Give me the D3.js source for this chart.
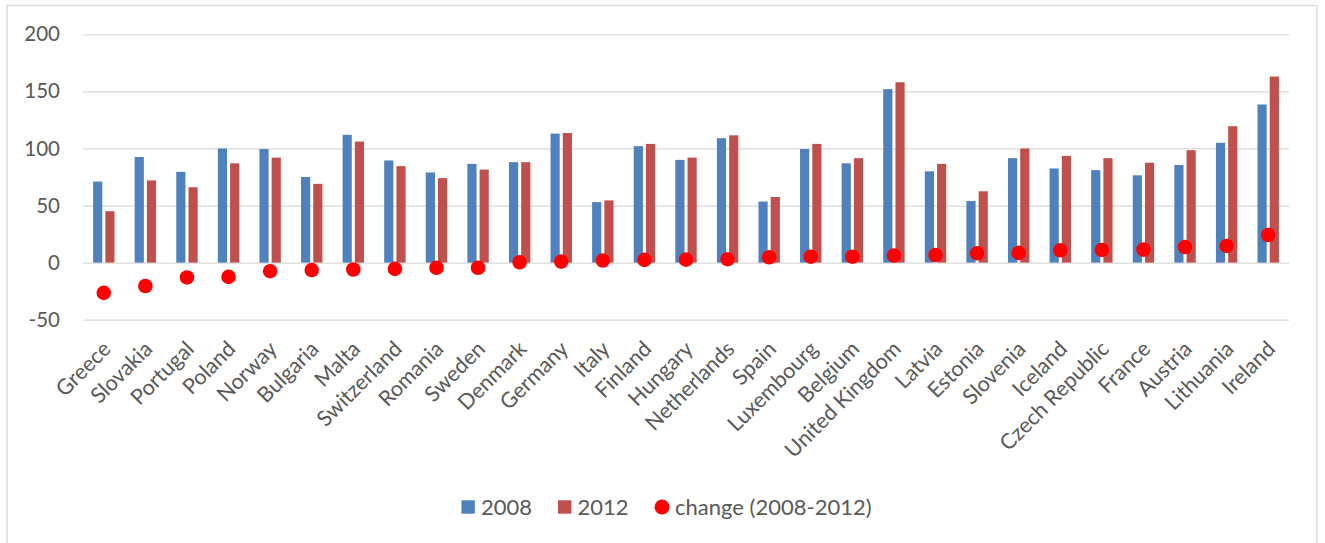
<!DOCTYPE html>
<html>
<head>
<meta charset="utf-8">
<script src="https://cdn.jsdelivr.net/npm/d3@7"></script>
<style>
  html, body { margin: 0; padding: 0; background: #fff; }
  svg text { font-family: Lato, "Open Sans", sans-serif; fill: #595959; }
</style>
</head>
<body>
<div id="chart"></div>
<script>
// ---------- Data ----------
const countries = [
  "Greece", "Slovakia", "Portugal", "Poland", "Norway", "Bulgaria", "Malta",
  "Switzerland", "Romania", "Sweden", "Denmark", "Germany", "Italy", "Finland",
  "Hungary", "Netherlands", "Spain", "Luxembourg", "Belgium", "United Kingdom",
  "Latvia", "Estonia", "Slovenia", "Iceland", "Czech Republic", "France",
  "Austria", "Lithuania", "Ireland"
];
const v2008 = [71, 92.5, 79.5, 100, 99.5, 75, 112, 89.5, 79, 86.5, 88, 113, 53, 102, 90, 109, 53.5, 99.5, 87, 152, 80, 54, 91.5, 82.5, 81, 76.5, 85.5, 105, 138.5];
const v2012 = [45, 72, 66, 87, 92, 69, 106, 84.5, 74, 81.5, 88, 113.5, 54.5, 104, 92, 111.5, 57.5, 104, 91.5, 158, 86.5, 62.5, 100, 93.5, 91.5, 87.5, 98.5, 119.5, 163];
const change = [-26.5, -20.5, -13, -12.5, -7.5, -6.5, -6, -5.5, -4.5, -4.5, 0.3, 0.9, 1.8, 2.4, 2.6, 3, 4.7, 5.2, 5.2, 6.1, 6.7, 8.2, 8.5, 10.8, 11.1, 11.4, 13.7, 14.6, 24.2];
const yTicks = [-50, 0, 50, 100, 150, 200];
const seriesNames = ["2008", "2012"];
const seriesColors = ["#4F81BD", "#C0504D"];
const dotName = "change (2008-2012)";
const dotColor = "#FF0000";

// ---------- Layout ----------
const W = 1325, H = 543;
const left = 83, right = 1289;

const svg = d3.select("#chart").append("svg").attr("width", W).attr("height", H);

// outer chart border
svg.append("rect")
  .attr("x", 7).attr("y", 5.5)
  .attr("width", 1310).attr("height", 560)
  .attr("fill", "none").attr("stroke", "#d9d9d9").attr("stroke-width", 1.3);

const x = d3.scaleBand().domain(countries).range([left, right]);
const x1 = d3.scaleBand().domain(seriesNames).range([-10.7, 10.7]).paddingInner(0.25);
const y = d3.scaleLinear().domain([-50, 200]).range([319.7, 34.3]);

// gridlines
svg.append("g")
  .attr("transform", `translate(${left},0)`)
  .call(d3.axisLeft(y).tickValues(yTicks).tickSize(-(right - left)).tickFormat(""))
  .call((g) => g.select(".domain").remove())
  .selectAll("line")
  .attr("stroke", "#d9d9d9")
  .attr("stroke-width", 1.3);

// y labels (plain hyphen for negatives, like the original)
svg.append("g")
  .attr("transform", `translate(${left},0)`)
  .call(d3.axisLeft(y).tickValues(yTicks).tickSize(0).tickPadding(23).tickFormat((d) => String(d)))
  .call((g) => g.select(".domain").remove())
  .selectAll("text")
  .attr("font-size", 20.5)
  .attr("fill", "#595959");

// bars
const rows = countries.map((c, i) => ({ c, vals: [v2008[i], v2012[i]], ch: change[i] }));

svg.append("g")
  .selectAll("g")
  .data(rows)
  .enter()
  .append("g")
  .attr("transform", (d) => `translate(${x(d.c) + x.bandwidth() / 2},0)`)
  .selectAll("rect")
  .data((d) => d.vals.map((v, k) => ({ k, v })))
  .enter()
  .append("rect")
  .attr("x", (d) => x1(seriesNames[d.k]))
  .attr("width", x1.bandwidth())
  .attr("y", (d) => y(Math.max(0, d.v)))
  .attr("height", (d) => Math.abs(y(d.v) - y(0)))
  .attr("fill", (d) => seriesColors[d.k]);

// change dots
svg.append("g")
  .selectAll("circle")
  .data(rows)
  .enter()
  .append("circle")
  .attr("cx", (d) => x(d.c) + x.bandwidth() / 2)
  .attr("cy", (d) => y(d.ch))
  .attr("r", 7.3)
  .attr("fill", dotColor);

// category labels
svg.append("g")
  .attr("transform", "translate(0,345)")
  .call(d3.axisBottom(x).tickSize(0))
  .call((g) => g.select(".domain").remove())
  .selectAll("text")
  .attr("font-size", 21.5)
  .attr("fill", "#595959")
  .attr("x", 0).attr("y", 0)
  .attr("dy", "0.35em")
  .attr("text-anchor", "end")
  .attr("transform", "translate(3,0) rotate(-45)");

// legend
const legend = svg.append("g").attr("transform", "translate(0,507)");
const items = [
  { name: seriesNames[0], color: seriesColors[0], shape: "rect" },
  { name: seriesNames[1], color: seriesColors[1], shape: "rect" },
  { name: dotName, color: dotColor, shape: "circle" }
];
const parts = items.map((it) => {
  const g = legend.append("g");
  if (it.shape === "rect") {
    g.append("rect").attr("x", 0).attr("y", -6.7).attr("width", 13.4).attr("height", 13.4).attr("fill", it.color);
  } else {
    g.append("circle").attr("cx", 7.5).attr("cy", 0).attr("r", 7.5).attr("fill", it.color);
  }
  const pad = it.shape === "rect" ? 19.5 : 20.5;
  const t = g.append("text")
    .attr("x", pad)
    .attr("dy", "0.35em")
    .attr("font-size", 22)
    .text(it.name);
  return { g, w: pad + t.node().getComputedTextLength() };
});
const gap = 26;
const total = d3.sum(parts, (p) => p.w) + gap * (parts.length - 1);
let cursor = 666.5 - total / 2;
parts.forEach((p) => {
  p.g.attr("transform", `translate(${cursor},0)`);
  cursor += p.w + gap;
});
</script>
</body>
</html>
